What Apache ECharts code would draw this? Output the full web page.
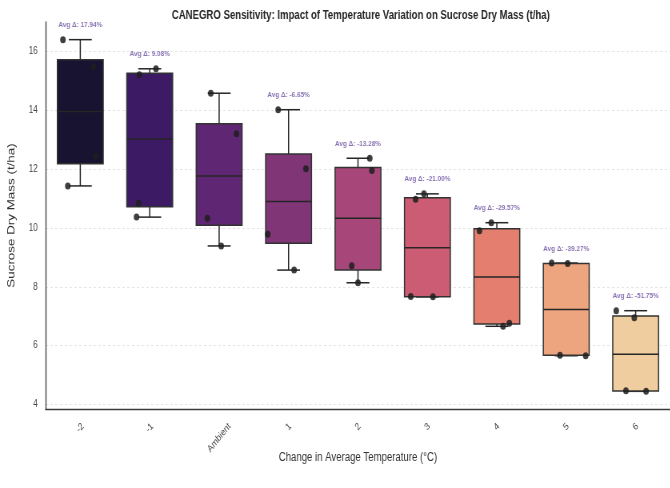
<!DOCTYPE html>
<html>
<head>
<meta charset="utf-8">
<script src="https://cdn.jsdelivr.net/npm/echarts@6/dist/echarts.min.js"></script>
<style>
html,body{margin:0;padding:0;background:#fff;overflow:hidden;width:670px;height:488px;}
/* the reference figure is horizontally compressed: draw wide, then squeeze */
#chart{width:838px;height:488px;transform:scaleX(0.8);transform-origin:0 0;}
</style>
</head>
<body>
<div id="chart"></div>
<script>
// ---- data ----
const CATEGORIES = ['-2', '-1', 'Ambient', '1', '2', '3', '4', '5', '6'];
const OBS_M2 = [16.40, 15.49, 12.43, 11.43];
const OBS_M1 = [15.41, 15.21, 10.84, 10.37];
const OBS_AMB = [14.58, 13.20, 10.33, 9.39];
const OBS_P1 = [14.02, 12.01, 9.79, 8.57];
const OBS_P2 = [12.37, 11.95, 8.72, 8.14];
const OBS_P3 = [11.16, 10.98, 7.67, 7.66];
const OBS_P4 = [10.18, 9.91, 6.76, 6.66];
const OBS_P5 = [8.81, 8.79, 5.68, 5.66];
const OBS_P6 = [7.19, 6.95, 4.47, 4.45];
const OBSERVATIONS = [OBS_M2, OBS_M1, OBS_AMB, OBS_P1, OBS_P2, OBS_P3, OBS_P4, OBS_P5, OBS_P6];
// strip-plot jitter (category units) for each observation above
const JITTER = [
  [-0.25, 0.19, 0.22, -0.18],
  [0.09, -0.15, -0.16, -0.19],
  [-0.12, 0.25, -0.17, 0.03],
  [-0.15, 0.25, -0.30, 0.08],
  [0.17, 0.20, -0.09, 0.00],
  [-0.05, -0.17, -0.24, 0.08],
  [-0.08, -0.25, 0.18, 0.09],
  [-0.21, 0.02, -0.09, 0.28],
  [-0.28, -0.02, -0.14, 0.15]
];
const AVG_DELTA = [17.94, 9.08, null, -6.65, -13.28, -21.00, -29.57, -39.27, -51.75];
const Y_TICKS = [4, 6, 8, 10, 12, 14, 16];
const Y_MIN = 3.85, Y_MAX = 17.0;

// ---- styles ----
const BOX_COLORS = ['#171331', '#3c1b64', '#5f2773', '#803577', '#a74779', '#cb5c73', '#e47e6f', '#eca57f', '#f0cd9f'];
const FONT = '"Liberation Sans", Arial, sans-serif';
const TICK_FS = 10;

function quantile(arr, q) {
  const s = arr.slice().sort((a, b) => a - b);
  const pos = (s.length - 1) * q;
  const lo = Math.floor(pos), hi = Math.ceil(pos);
  return s[lo] + (s[hi] - s[lo]) * (pos - lo);
}

const boxData = OBSERVATIONS.map((obs, i) => {
  const q1 = quantile(obs, 0.25), q3 = quantile(obs, 0.75), med = quantile(obs, 0.5);
  const iqr = q3 - q1;
  const inRange = obs.filter(v => v >= q1 - 1.5 * iqr && v <= q3 + 1.5 * iqr);
  return [i, Math.min(...inRange), q1, med, q3, Math.max(...inRange)];
});

const pointData = [];
OBSERVATIONS.forEach((obs, i) => {
  obs.forEach((v, j) => pointData.push([i + JITTER[i][j], v]));
});

const annoData = [];
OBSERVATIONS.forEach((obs, i) => {
  if (AVG_DELTA[i] !== null) {
    annoData.push({ value: [i, Math.max(...obs) + 0.5], text: 'Avg Δ: ' + AVG_DELTA[i].toFixed(2) + '%' });
  }
});

const measureCtx = document.createElement('canvas').getContext('2d');
measureCtx.font = TICK_FS + 'px ' + FONT;

const chart = echarts.init(document.getElementById('chart'));
chart.setOption({
  animation: false,
  backgroundColor: '#fff',
  textStyle: { fontFamily: FONT },
  title: {
    text: 'CANEGRO Sensitivity: Impact of Temperature Variation on Sucrose Dry Mass (t/ha)',
    left: 446, top: 5, textAlign: 'center',
    textStyle: { fontFamily: FONT, fontSize: 12, fontWeight: 'bold', color: '#262626' }
  },
  grid: { left: 56.25, top: 22, width: 787.5, height: 387 },
  xAxis: [{
    type: 'category', data: CATEGORIES, boundaryGap: true,
    axisLine: { show: true, onZero: false, lineStyle: { color: '#3a3a3a', width: 1.3 } },
    axisTick: { show: false },
    axisLabel: { show: false },
    splitLine: { show: false },
    name: 'Change in Average Temperature (°C)', nameLocation: 'middle', nameGap: 43,
    nameTextStyle: { fontSize: 12, color: '#333', fontFamily: FONT }
  }, {
    type: 'value', min: -0.5, max: 8.5, show: false
  }],
  yAxis: {
    type: 'value', min: Y_MIN, max: Y_MAX, splitNumber: 7, minInterval: 2, maxInterval: 2,
    axisLine: { show: true, onZero: false, lineStyle: { color: '#3a3a3a', width: 1.3 } },
    axisTick: { show: false },
    splitLine: { show: false },
    axisLabel: {
      fontSize: TICK_FS, color: '#444', margin: 10, fontFamily: FONT,
      showMinLabel: false, showMaxLabel: false,
      formatter: v => (Y_TICKS.indexOf(Math.round(v * 100) / 100) >= 0 ? String(v) : '')
    },
    name: 'Sucrose Dry Mass (t/ha)', nameLocation: 'middle', nameGap: 36,
    nameTextStyle: { fontSize: 13.4, color: '#333', fontFamily: FONT }
  },
  series: [
    {
      type: 'line', data: [], silent: true, z: 0,
      markLine: {
        silent: true, symbol: 'none', label: { show: false }, z: 0,
        lineStyle: { color: '#dedede', type: [3, 3], width: 0.8 },
        data: Y_TICKS.map(v => ({ yAxis: v }))
      }
    },
    {
      type: 'custom', xAxisIndex: 0, data: boxData, z: 3,
      renderItem: function (params, api) {
        const i = api.value(0);
        const band = api.size([1, 0])[0];
        const bw = band * 0.66, cw = bw * 0.5;
        const pMin = api.coord([i, api.value(1)]);
        const pQ1 = api.coord([i, api.value(2)]);
        const pMed = api.coord([i, api.value(3)]);
        const pQ3 = api.coord([i, api.value(4)]);
        const pMax = api.coord([i, api.value(5)]);
        const x = pMed[0];
        const line = { stroke: '#262626', lineWidth: 1.5 };
        return {
          type: 'group',
          children: [
            { type: 'line', shape: { x1: x, y1: pQ3[1], x2: x, y2: pMax[1] }, style: line },
            { type: 'line', shape: { x1: x, y1: pQ1[1], x2: x, y2: pMin[1] }, style: line },
            { type: 'line', shape: { x1: x - cw / 2, y1: pMax[1], x2: x + cw / 2, y2: pMax[1] }, style: line },
            { type: 'line', shape: { x1: x - cw / 2, y1: pMin[1], x2: x + cw / 2, y2: pMin[1] }, style: line },
            { type: 'rect', shape: { x: x - bw / 2, y: pQ3[1], width: bw, height: pQ1[1] - pQ3[1] },
              style: { fill: BOX_COLORS[i], stroke: '#333', lineWidth: 1.5 } },
            { type: 'line', shape: { x1: x - bw / 2, y1: pMed[1], x2: x + bw / 2, y2: pMed[1] }, style: line }
          ]
        };
      }
    },
    {
      // rotated category labels, centred under each tick (matplotlib style)
      type: 'custom', xAxisIndex: 0, data: CATEGORIES.map((c, i) => [i]), z: 3, silent: true,
      renderItem: function (params, api) {
        const i = api.value(0);
        const p = api.coord([i, Y_MIN]);
        const text = CATEGORIES[i];
        const w = measureCtx.measureText(text).width;
        const half = (w + TICK_FS) / (2 * Math.SQRT2);
        return {
          type: 'text', x: p[0], y: p[1] + 12.3 + half, rotation: Math.PI / 4,
          style: { text: text, align: 'center', verticalAlign: 'middle',
                   font: TICK_FS + 'px ' + FONT, fill: '#444' }
        };
      }
    },
    {
      type: 'scatter', xAxisIndex: 1, data: pointData, z: 5,
      symbol: 'circle', symbolSize: 7,
      itemStyle: { color: '#1e1e1e', opacity: 0.85 }
    },
    {
      type: 'scatter', xAxisIndex: 0, data: annoData, z: 6,
      symbolSize: 0,
      label: {
        show: true, position: 'inside',
        formatter: p => p.data.text,
        fontSize: 8, fontWeight: 'bold', color: '#6a4fa0', fontFamily: FONT
      }
    }
  ]
});
</script>
</body>
</html>
